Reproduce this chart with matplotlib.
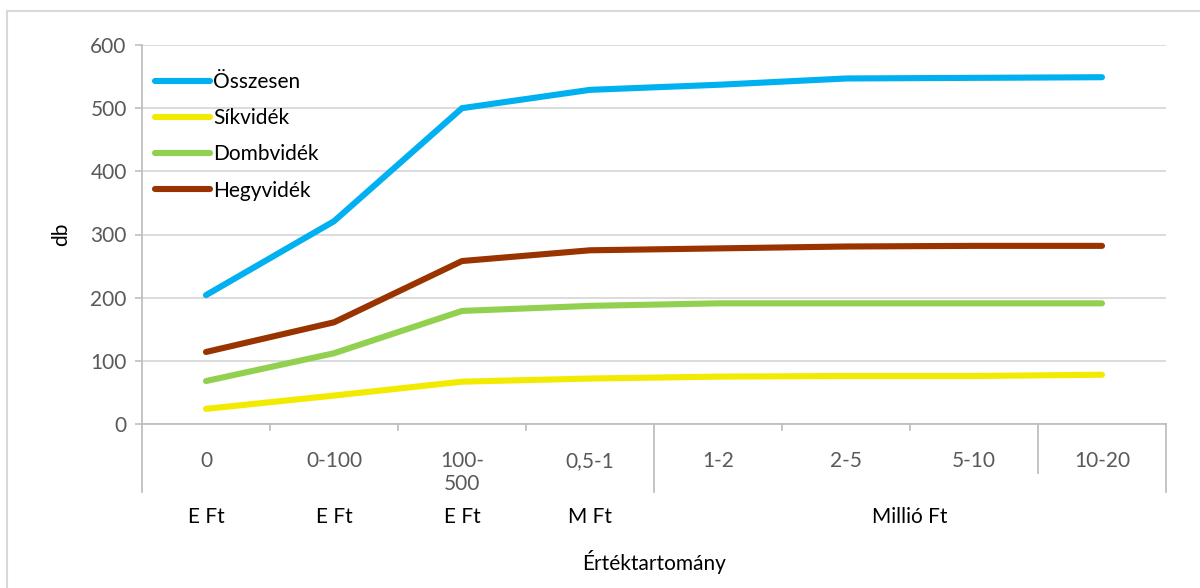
import numpy as np
import matplotlib.pyplot as plt
from matplotlib.lines import Line2D

# data
categories = ["0", "0-100", "100-\n500", "0,5-1", "1-2", "2-5", "5-10", "10-20"]
units = ["E Ft", "E Ft", "E Ft", "M Ft", "Millió Ft"]
unit_spans = [(0, 1), (1, 2), (2, 3), (3, 4), (4, 8)]

osszesen = [204, 321, 500, 529, 537, 547, 548, 549]
sikvidek = [24, 45, 67, 72, 75, 76, 76, 78]
dombvidek = [68, 112, 179, 187, 191, 191, 191, 191]
hegyvidek = [114, 161, 258, 275, 278, 281, 282, 282]

series = [
    ("Összesen", osszesen, "#00B0F0"),
    ("Síkvidék", sikvidek, "#F2EB00"),
    ("Dombvidék", dombvidek, "#92D050"),
    ("Hegyvidék", hegyvidek, "#993300"),
]

plt.rcParams['font.family'] = ['Lato', 'DejaVu Sans']
W, H = 1200, 588
fig = plt.figure(figsize=(W / 100, H / 100), dpi=100)
ax = fig.add_axes([142 / W, 1 - 424 / H, 1024 / W, 379 / H])

x = np.arange(len(categories)) + 0.5
for name, vals, col in series:
    ax.plot(x, vals, color=col, lw=4.4, solid_capstyle='round',
            solid_joinstyle='round', label=name)

ax.set_xlim(0, len(categories))
ax.set_ylim(0, 600)
ax.set_yticks(range(0, 601, 100))
ax.yaxis.grid(True, color="#D9D9D9", lw=1.3)
ax.set_axisbelow(True)
ax.tick_params(axis='y', length=5, width=1.2, color="#BFBFBF",
               labelsize=15, labelcolor="#595959", pad=6)
ax.set_xticks([])
for s in ['top', 'right']:
    ax.spines[s].set_visible(False)
for s in ['left', 'bottom']:
    ax.spines[s].set_color("#BFBFBF")
    ax.spines[s].set_linewidth(1.3)

ax.set_ylabel("db", fontsize=15, labelpad=14)

# category labels (two levels)
trans = ax.get_xaxis_transform()
for xi, lab in zip(x, categories):
    ax.text(xi, -0.072, lab, transform=trans, ha='center', va='top',
            fontsize=15, color="#595959")
for lab, (a, b) in zip(units, unit_spans):
    ax.text((a + b) / 2, -0.245, lab, transform=trans, ha='center',
            va='center', fontsize=15, color="black")

# separators below the axis
for b in range(len(categories) + 1):
    if b in (0, 4, 8):
        y0 = -0.179
    elif b == 7:
        y0 = -0.129
    else:
        y0 = -0.016
    ax.plot([b, b], [0, y0], transform=trans, color="#BFBFBF", lw=1.3,
            clip_on=False)

ax.text(0.5, -0.364, "Értéktartomány", transform=ax.transAxes,
        ha='center', va='center', fontsize=15)

leg = ax.legend(loc='upper left', bbox_to_anchor=(155 / W, 1 - 72 / H),
                bbox_transform=fig.transFigure, frameon=False, fontsize=15,
                handlelength=2.65, handletextpad=0.15, labelspacing=0.78,
                borderpad=0, borderaxespad=0)

# outer chart border
fig.add_artist(Line2D([7 / W, 7 / W], [0, 1 - 11 / H], color="#D9D9D9", lw=1.5))
fig.add_artist(Line2D([7 / W, 1], [1 - 11 / H, 1 - 11 / H], color="#D9D9D9", lw=1.5))

fig.savefig("out.png", dpi=100)
